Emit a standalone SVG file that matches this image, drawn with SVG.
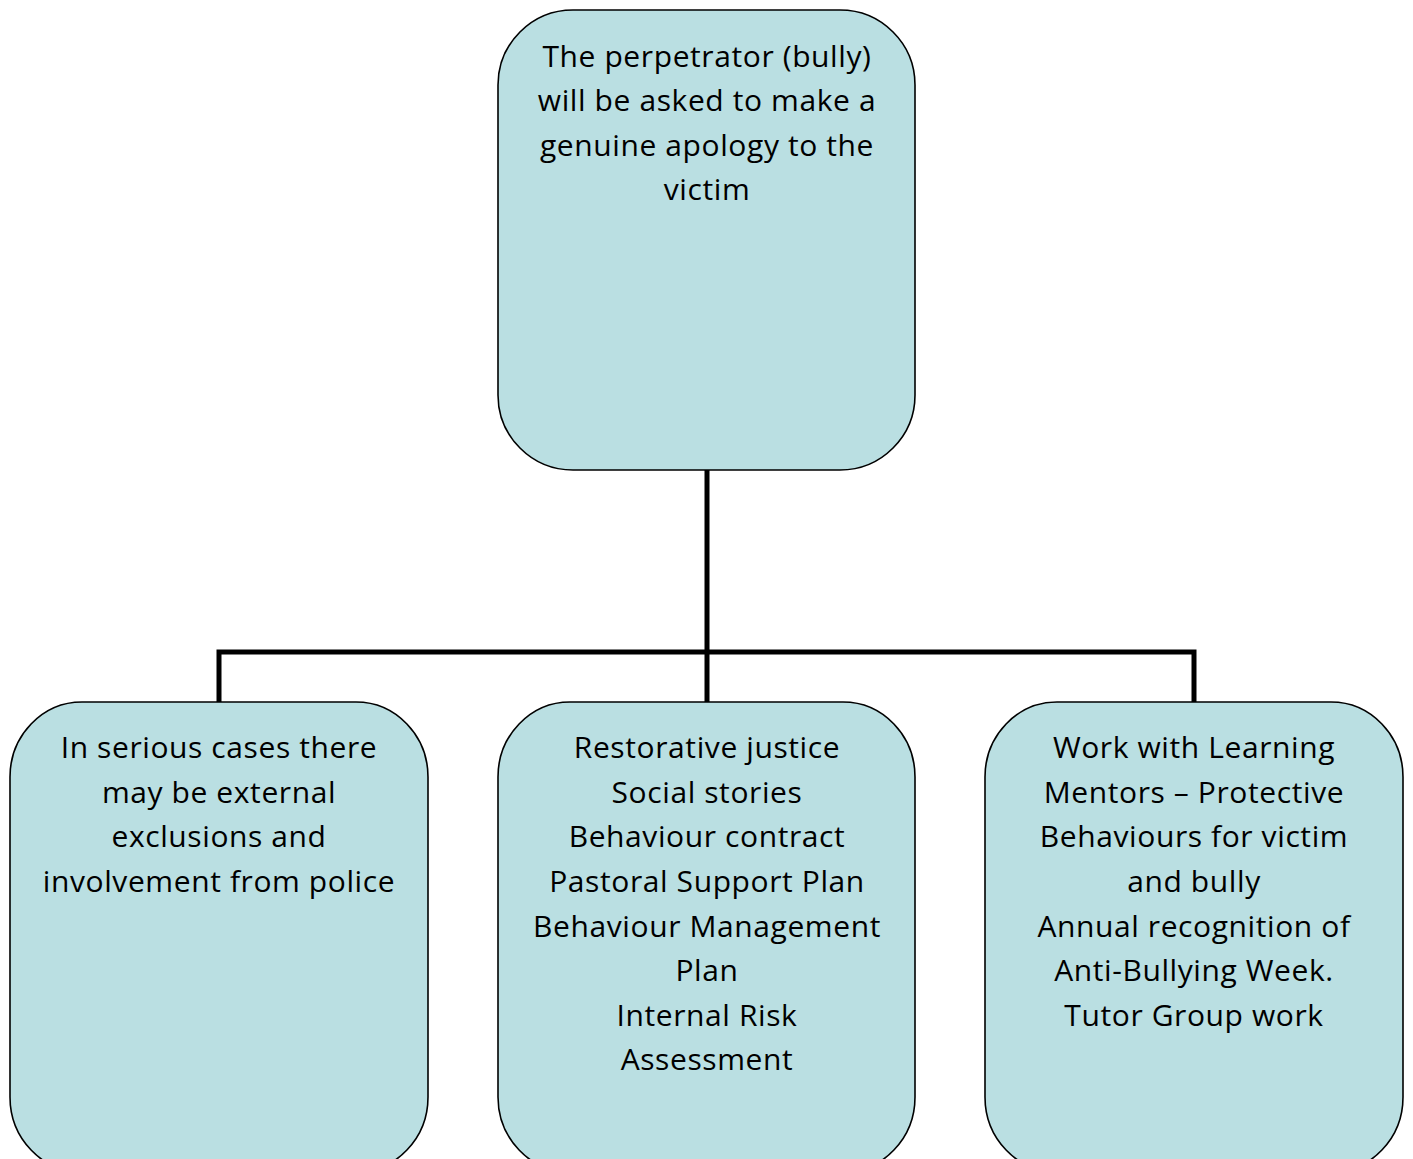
<svg xmlns="http://www.w3.org/2000/svg" width="1413" height="1159" viewBox="0 0 1413 1159">
<style>
.box{fill:#BADFE2;stroke:#000;stroke-width:1.6}
.t{font-family:"Open Sans","Noto Sans","DejaVu Sans",sans-serif;font-size:30px;letter-spacing:0.6px;fill:#000;text-anchor:middle}
.c{fill:none;stroke:#000;stroke-width:5}
</style>
<rect width="1413" height="1159" fill="#fff"/>
<g id="connectors">
<path class="c" d="M707 470 V702"/>
<path class="c" d="M219 702 V652 H1194 V702"/>
</g>
<g id="top">
<rect class="box" x="498" y="10" width="417" height="460" rx="75" ry="75"/>
<text class="t" x="707" y="67">The perpetrator (bully)</text>
<text class="t" x="707" y="111">will be asked to make a</text>
<text class="t" x="707" y="156">genuine apology to the</text>
<text class="t" x="707" y="200">victim</text>
</g>
<g id="left">
<rect class="box" x="10" y="702" width="418" height="470" rx="72" ry="75"/>
<text class="t" x="219" y="758">In serious cases there</text>
<text class="t" x="219" y="803">may be external</text>
<text class="t" x="219" y="847">exclusions and</text>
<text class="t" x="219" y="892">involvement from police</text>
</g>
<g id="middle">
<rect class="box" x="498" y="702" width="417" height="470" rx="72" ry="75"/>
<text class="t" x="707" y="758">Restorative justice</text>
<text class="t" x="707" y="803">Social stories</text>
<text class="t" x="707" y="847">Behaviour contract</text>
<text class="t" x="707" y="892">Pastoral Support Plan</text>
<text class="t" x="707" y="937">Behaviour Management</text>
<text class="t" x="707" y="981">Plan</text>
<text class="t" x="707" y="1026">Internal Risk</text>
<text class="t" x="707" y="1070">Assessment</text>
</g>
<g id="right">
<rect class="box" x="985" y="702" width="418" height="470" rx="72" ry="75"/>
<text class="t" x="1194" y="758">Work with Learning</text>
<text class="t" x="1194" y="803">Mentors – Protective</text>
<text class="t" x="1194" y="847">Behaviours for victim</text>
<text class="t" x="1194" y="892">and bully</text>
<text class="t" x="1194" y="937">Annual recognition of</text>
<text class="t" x="1194" y="981">Anti-Bullying Week.</text>
<text class="t" x="1194" y="1026">Tutor Group work</text>
</g>
</svg>
